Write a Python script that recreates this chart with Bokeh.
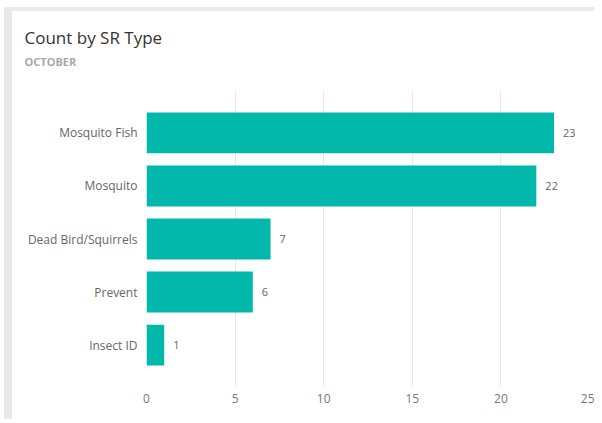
from bokeh.plotting import figure
from bokeh.models import Range1d, FactorRange, Title, ColumnDataSource, FixedTicker
from bokeh.core.properties import value
from bokeh.embed import file_html
from bokeh.resources import INLINE

categories = ["Mosquito Fish", "Mosquito", "Dead Bird/Squirrels", "Prevent", "Insect ID"]
counts = [23, 22, 7, 6, 1]
x_ticks = [0, 5, 10, 15, 20, 25]
title_text = "Count by SR Type"
subtitle_text = "OCTOBER"

FONT = "Open Sans"
BAR = "#01B8AA"

src = ColumnDataSource(dict(cat=categories, n=counts, lbl=[str(c) for c in counts]))

p = figure(width=590, height=412, output_backend="svg", toolbar_location=None,
           x_range=Range1d(0, 25),
           y_range=FactorRange(factors=categories[::-1], range_padding=0.12,
                               range_padding_units="percent"),
           min_border_left=134, min_border_right=13, min_border_top=79, min_border_bottom=36)
p.outline_line_color = None
p.background_fill_color = "white"
p.border_fill_color = "white"
p.styles = {"margin-left": "4px", "margin-top": "7px",
            "border-left": "8px solid #e9e9e9", "border-top": "4px solid #e9e9e9"}

p.hbar(y="cat", right="n", left=0, height=0.77, source=src, color=BAR, line_color=None)
p.text(x="n", y="cat", text="lbl", source=src, x_offset=9, text_baseline="middle",
       text_font=value(FONT), text_font_size="11px", text_color="#666666")

p.xaxis.ticker = FixedTicker(ticks=x_ticks)
p.xaxis.axis_line_color = None
p.xaxis.major_tick_line_color = None
p.xaxis.minor_tick_line_color = None
p.xaxis.major_tick_out = 0
p.xaxis.minor_tick_out = 0
p.xaxis.major_label_standoff = 6
p.xaxis.major_label_text_font = FONT
p.xaxis.major_label_text_font_size = "12px"
p.xaxis.major_label_text_color = "#777777"

p.yaxis.axis_line_color = None
p.yaxis.major_tick_line_color = None
p.yaxis.major_tick_out = 0
p.yaxis.major_label_standoff = 9
p.yaxis.major_label_text_font = FONT
p.yaxis.major_label_text_font_size = "12px"
p.yaxis.major_label_text_color = "#666666"

p.xgrid.grid_line_color = "#e8e8e8"
p.xgrid.grid_line_width = 1
p.ygrid.grid_line_color = None

# titles (first added sits closest to the frame)
p.add_layout(Title(text=subtitle_text, align="left", offset=-122, standoff=44,
                   text_font=FONT, text_font_size="11px", text_font_style="bold",
                   text_color="#a8a8a8"), "above")
p.add_layout(Title(text=title_text, align="left", offset=-122, standoff=-38,
                   text_font=FONT, text_font_size="17px", text_font_style="normal",
                   text_color="#333333"), "above")

open("out.html", "w").write(file_html(p, INLINE))
